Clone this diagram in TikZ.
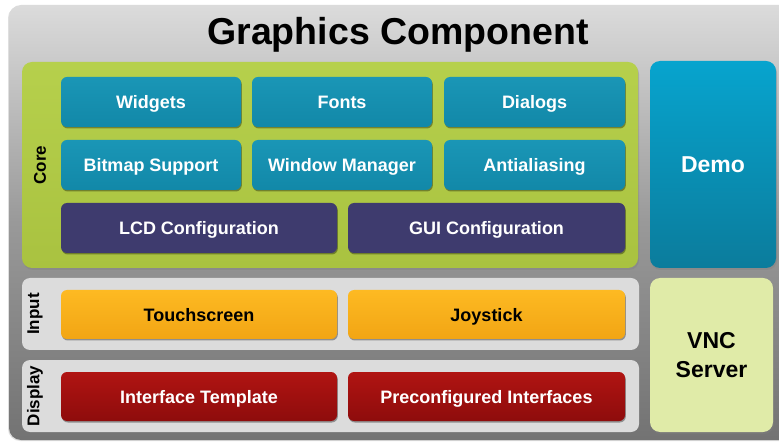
\documentclass[tikz,border=0pt]{standalone}
\usepackage{fontspec}
\setmainfont{Liberation Sans}
\usetikzlibrary{shadows}
\definecolor{tealbox}{HTML}{1A96B6}
\definecolor{tealboxd}{HTML}{1288A8}
\definecolor{navybox}{HTML}{3E3B6E}
\definecolor{greenpanel}{HTML}{A9C240}
\definecolor{greenpanelt}{HTML}{B6D04C}
\definecolor{orangebox}{HTML}{FDB226}
\definecolor{orangeboxd}{HTML}{F2A514}
\definecolor{redbox}{HTML}{B01412}
\definecolor{redboxd}{HTML}{8E0C0C}
\definecolor{demotop}{HTML}{07A4CE}
\definecolor{demobot}{HTML}{0B7C9C}
\definecolor{vncbox}{HTML}{E0EBA8}
\definecolor{lightpanel}{HTML}{DCDCDC}
\tikzset{
  basebox/.style={rounded corners=6pt, inner sep=0pt, outer sep=0pt, align=center,
    font=\fontsize{18}{20}\selectfont\bfseries, text height=13pt, text depth=0pt,
    drop shadow={shadow xshift=0.8pt, shadow yshift=-1.5pt, opacity=0.35, fill=black}},
  tealstyle/.style={basebox, top color=tealbox, bottom color=tealboxd, text=white},
  navystyle/.style={basebox, fill=navybox, text=white},
  orangestyle/.style={basebox, top color=orangebox!90!yellow, bottom color=orangeboxd, text=black},
  redstyle/.style={basebox, top color=redbox, bottom color=redboxd, text=white},
  panel/.style={rounded corners=10pt, inner sep=0pt, outer sep=0pt},
  sidelabel/.style={rotate=90, font=\fontsize{17}{19}\selectfont\bfseries, text=black, inner sep=0pt},
}
\begin{document}
\begin{tikzpicture}[x=1pt,y=1pt]
\useasboundingbox (0,0) rectangle (779,442);
\clip (0,0) rectangle (779,442);
\fill[white] (0,0) rectangle (779,442);
% outer box
\node[panel, rounded corners=12pt, minimum width=791pt, minimum height=435pt,
      top color=black!14, bottom color=black!55, middle color=black!40,
      drop shadow={shadow xshift=-1pt, shadow yshift=-1pt, opacity=0.25}] (outer) at (404.5,219.5) {};
\node[font=\fontsize{37.5}{40}\selectfont\bfseries] (title) at (398,407) {Graphics Component};
% core panel
\node[panel, minimum width=616pt, minimum height=206pt, top color=greenpanelt, bottom color=greenpanel,
      drop shadow={shadow xshift=1pt, shadow yshift=-2pt, opacity=0.4}] (core) at (330,277) {};
\node[sidelabel] (corelbl) at (40,277) {Core};
\node[tealstyle, minimum width=180pt, minimum height=50pt] (widgets) at (151,340) {Widgets};
\node[tealstyle, minimum width=180pt, minimum height=50pt] (fonts) at (342,340) {Fonts};
\node[tealstyle, minimum width=181pt, minimum height=50pt] (dialogs) at (534.5,340) {Dialogs};
\node[tealstyle, minimum width=180pt, minimum height=50pt] (bitmap) at (151,277) {Bitmap Support};
\node[tealstyle, minimum width=180pt, minimum height=50pt] (window) at (342,277) {Window Manager};
\node[tealstyle, minimum width=181pt, minimum height=50pt] (anti) at (534.5,277) {Antialiasing};
\node[navystyle, minimum width=276pt, minimum height=50pt] (lcd) at (199,214) {LCD Configuration};
\node[navystyle, minimum width=277pt, minimum height=50pt] (gui) at (486.5,214) {GUI Configuration};
% demo
\node[panel, minimum width=126pt, minimum height=207pt, top color=demotop, bottom color=demobot,
      text=white, font=\fontsize{23}{26}\selectfont\bfseries,
      drop shadow={shadow xshift=1pt, shadow yshift=-2pt, opacity=0.4}] (demo) at (713,277.5) {Demo};
% input panel
\node[panel, rounded corners=8pt, minimum width=617pt, minimum height=72pt, fill=lightpanel] (input) at (330.5,128) {};
\node[sidelabel] (inputlbl) at (35,128) {Input};
\node[orangestyle, minimum width=276pt, minimum height=49pt] (touch) at (199,127.5) {Touchscreen};
\node[orangestyle, minimum width=277pt, minimum height=49pt] (joy) at (486.5,127.5) {Joystick};
% display panel
\node[panel, rounded corners=8pt, minimum width=617pt, minimum height=72pt, fill=lightpanel] (display) at (330.5,46) {};
\node[sidelabel] (displaylbl) at (35,46) {Display};
\node[redstyle, minimum width=276pt, minimum height=49pt] (iface) at (199,45.5) {Interface Template};
\node[redstyle, minimum width=277pt, minimum height=49pt] (preconf) at (486.5,45.5) {Preconfigured Interfaces};
% vnc
\node[panel, minimum width=123pt, minimum height=154pt, fill=vncbox, align=center,
      font=\fontsize{23}{29}\selectfont\bfseries,
      drop shadow={shadow xshift=1pt, shadow yshift=-2pt, opacity=0.4}] (vnc) at (711.5,87) {VNC\\Server};
\end{tikzpicture}
\end{document}
